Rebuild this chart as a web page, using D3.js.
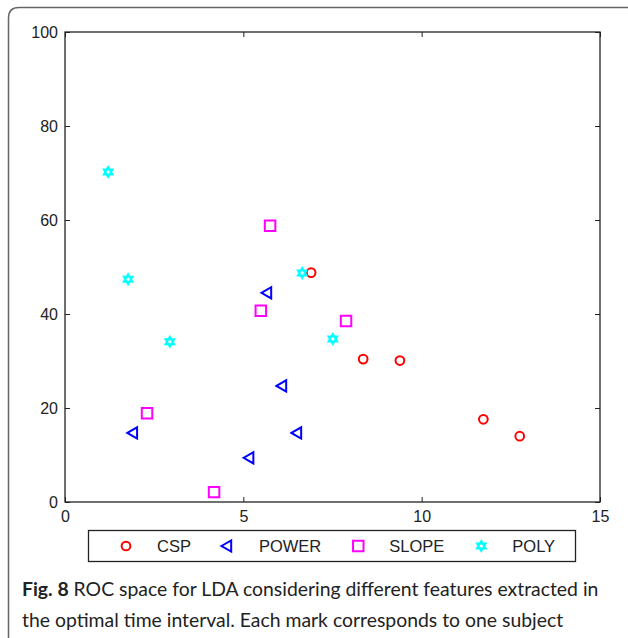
<!DOCTYPE html>
<html>
<head>
<meta charset="utf-8">
<script src="https://cdn.jsdelivr.net/npm/d3@7"></script>
<style>
  body { margin: 0; background: #fff; }
  svg { display: block; }
</style>
</head>
<body>
<div id="chart"></div>
<script>
// data
var xTicks = [0, 5, 10, 15];
var yTicks = [0, 20, 40, 60, 80, 100];
var seriesNames = ["CSP", "POWER", "SLOPE", "POLY"];
var cspX = [6.90, 8.36, 9.39, 11.73, 12.75];
var cspY = [48.8, 30.4, 30.1, 17.6, 14.0];
var powerX = [5.69, 6.11, 6.53, 1.93, 5.19];
var powerY = [44.5, 24.7, 14.7, 14.7, 9.4];
var slopeX = [5.75, 5.49, 7.88, 2.30, 4.18];
var slopeY = [58.8, 40.7, 38.5, 18.9, 2.1];
var polyX = [1.21, 1.77, 2.94, 6.65, 7.51];
var polyY = [70.2, 47.4, 34.1, 48.7, 34.7];
var captionBold = "Fig. 8";
var captionLine1 = " ROC space for LDA considering different features extracted in";
var captionLine2 = "the optimal time interval. Each mark corresponds to one subject";

var w = 628, h = 638;
var svg = d3.select("#chart")
    .append("svg")
    .attr("width", w)
    .attr("height", h);

// panel outline (rounded top-left corner, clipped on the right)
svg.append("path")
    .attr("d", "M8.5," + h + " L8.5,18 Q8.5,7.5 19,7.5 L" + w + ",7.5")
    .attr("fill", "none")
    .attr("stroke", "#666")
    .attr("stroke-width", 1.5);

var x = d3.scaleLinear().domain([0, 15]).range([65, 600]);
var y = d3.scaleLinear().domain([0, 100]).range([502, 32]);

var tickFont = "'Liberation Sans', Arial, sans-serif";

function styleAxis(g) {
  g.select(".domain").remove();
  g.selectAll(".tick line").attr("stroke", "#222");
  g.selectAll(".tick text")
      .attr("fill", "#222")
      .style("font-family", tickFont)
      .style("font-size", "16px");
}

svg.append("g")
    .attr("transform", "translate(0," + y(0) + ")")
    .call(d3.axisBottom(x).tickValues(xTicks).tickSizeInner(-5).tickSizeOuter(0).tickPadding(9))
    .call(styleAxis);
svg.append("g")
    .attr("transform", "translate(0," + y(100) + ")")
    .call(d3.axisTop(x).tickValues(xTicks).tickSizeInner(-5).tickSizeOuter(0).tickFormat(""))
    .call(styleAxis);
svg.append("g")
    .attr("transform", "translate(" + x(0) + ",0)")
    .call(d3.axisLeft(y).tickValues(yTicks).tickSizeInner(-5).tickSizeOuter(0).tickPadding(7))
    .call(styleAxis);
svg.append("g")
    .attr("transform", "translate(" + x(15) + ",0)")
    .call(d3.axisRight(y).tickValues(yTicks).tickSizeInner(-5).tickSizeOuter(0).tickFormat(""))
    .call(styleAxis);

// plot frame
svg.append("rect")
    .attr("x", x(0))
    .attr("y", y(100))
    .attr("width", x(15) - x(0))
    .attr("height", y(0) - y(100))
    .attr("fill", "none")
    .attr("stroke", "#222")
    .attr("stroke-width", 1.3);

// six pointed star, like the matlab 'h' marker
var hexagram = {
  draw: function(ctx, size) {
    var r = Math.sqrt(size) / 2;
    for (var k = 0; k < 2; k++) {
      for (var i = 0; i < 3; i++) {
        var a = (k * 60 + i * 120 - 90) * Math.PI / 180;
        if (i == 0) ctx.moveTo(r * Math.cos(a), r * Math.sin(a));
        else ctx.lineTo(r * Math.cos(a), r * Math.sin(a));
      }
      ctx.closePath();
    }
  }
};

var series = [
  {name: seriesNames[0], xs: cspX, ys: cspY, color: "#ff0000", type: d3.symbolCircle, size: 60, rot: 0},
  {name: seriesNames[1], xs: powerX, ys: powerY, color: "#0000ff", type: d3.symbolTriangle, size: 55, rot: -90},
  {name: seriesNames[2], xs: slopeX, ys: slopeY, color: "#ff00ff", type: d3.symbolSquare, size: 110, rot: 0},
  {name: seriesNames[3], xs: polyX, ys: polyY, color: "#00ffff", type: hexagram, size: 100, rot: 0}
];

series.forEach(function(s) {
  var pts = s.xs.map(function(v, i) { return [v, s.ys[i]]; });
  svg.append("g")
      .selectAll("path")
      .data(pts)
      .enter()
      .append("path")
      .attr("d", d3.symbol().type(s.type).size(s.size))
      .attr("transform", function(d) {
          return "translate(" + x(d[0]) + "," + y(d[1]) + ") rotate(" + s.rot + ")";
      })
      .attr("fill", "none")
      .attr("stroke", s.color)
      .attr("stroke-width", 2);
});

// legend
var legend = svg.append("g");
legend.append("rect")
    .attr("x", 88.5)
    .attr("y", 530.5)
    .attr("width", 487)
    .attr("height", 31)
    .attr("fill", "#fff")
    .attr("stroke", "#222")
    .attr("stroke-width", 1.3);

var lx = 126;
series.forEach(function(s) {
  legend.append("path")
      .attr("d", d3.symbol().type(s.type).size(s.size))
      .attr("transform", "translate(" + lx + ",546) rotate(" + s.rot + ")")
      .attr("fill", "none")
      .attr("stroke", s.color)
      .attr("stroke-width", 2);
  var t = legend.append("text")
      .attr("x", lx + 31)
      .attr("y", 552)
      .attr("fill", "#222")
      .style("font-family", tickFont)
      .style("font-size", "16.5px")
      .text(s.name);
  lx = lx + 31 + t.node().getComputedTextLength() + 37;
});

// caption
var capFont = "Lato, sans-serif";
var cap1 = svg.append("text")
    .attr("x", 22)
    .attr("y", 596)
    .attr("fill", "#222")
    .style("font-family", capFont)
    .style("font-size", "20px");
cap1.append("tspan").style("font-weight", "bold").text(captionBold);
cap1.append("tspan").text(captionLine1);
var cap2 = svg.append("text")
    .attr("x", 22)
    .attr("y", 627)
    .attr("fill", "#222")
    .style("font-family", capFont)
    .style("font-size", "20px")
    .text(captionLine2);

// size the caption so the first line spans the figure width
var fs = 20 * 577 / cap1.node().getComputedTextLength();
cap1.style("font-size", fs + "px");
cap2.style("font-size", fs + "px");
</script>
</body>
</html>
